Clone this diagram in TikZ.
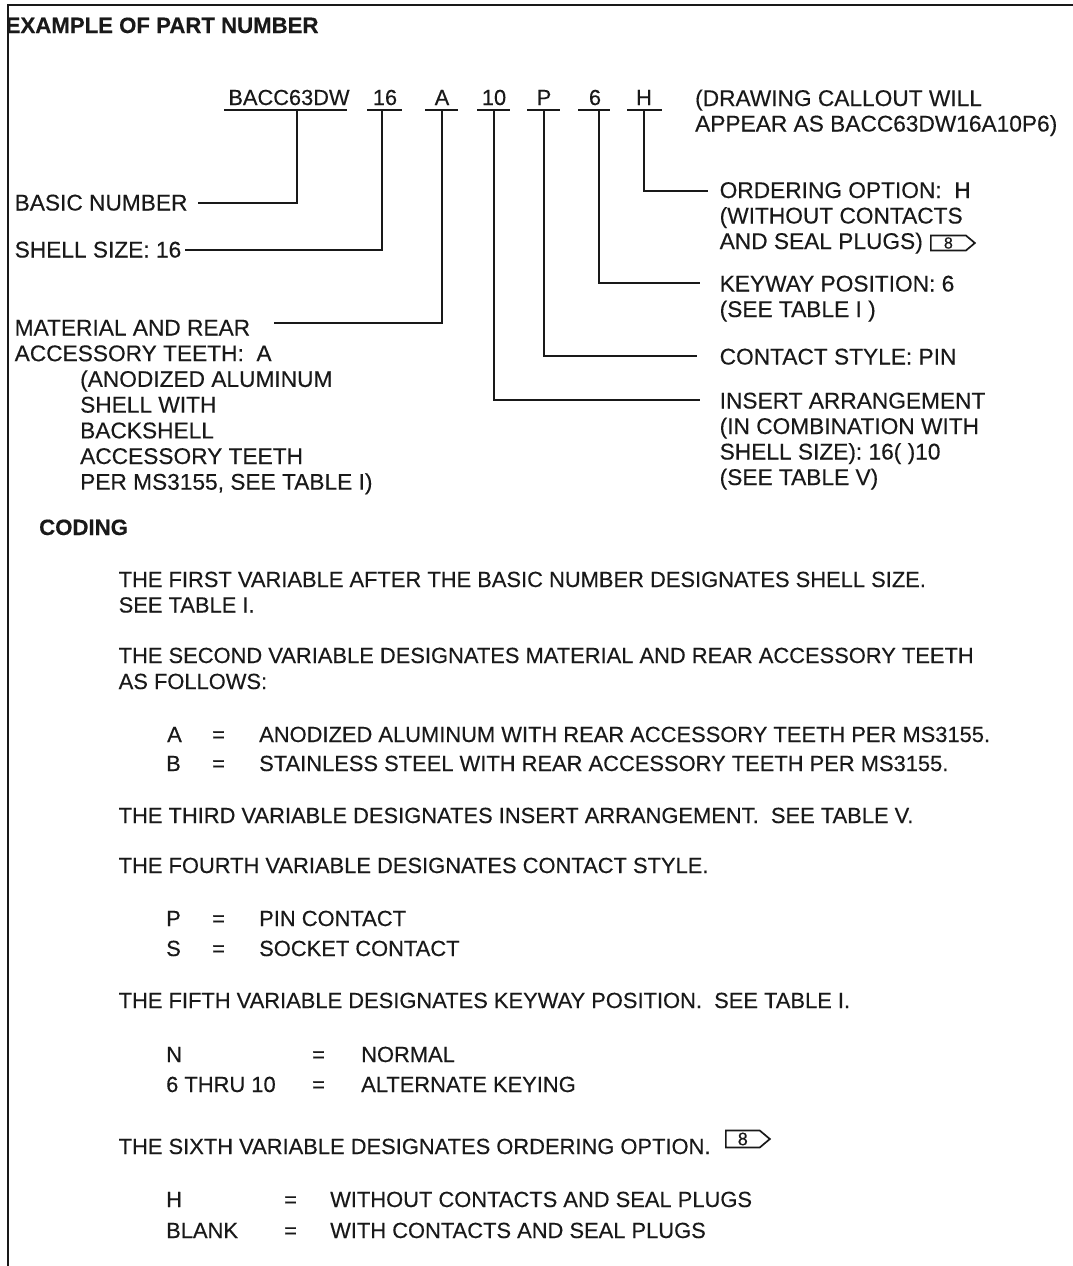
\documentclass[tikz,border=0pt]{standalone}
\usepackage{fontspec}
\setmainfont{Liberation Sans}[FakeBold=0.3]
\usetikzlibrary{shapes.symbols}
\begin{document}
\begin{tikzpicture}[x=1pt,y=-1pt,
  txt/.style={anchor=base west, inner sep=0pt, font=\fontsize{21.9}{25.7}\selectfont, text=black!90},
  big/.style={txt, font=\fontsize{22.7}{25.7}\selectfont},
  boldtxt/.style={txt, font=\fontsize{22.2}{25.7}\selectfont\bfseries},
  tok/.style={anchor=base, inner sep=0pt, font=\fontsize{21.8}{25.7}\selectfont, text=black!90},
  ln/.style={line width=1.8pt, black!90},
  flagnote/.style={draw=black!90, line width=1.7pt, shape=signal, signal to=east, signal pointer angle=80,
    minimum height=15pt, minimum width=44pt, inner sep=0pt, anchor=west, font=\fontsize{16}{16}\selectfont, text=black!90}
]
\useasboundingbox (0,0) rectangle (1073,1266);
\fill[white] (0,0) rectangle (1073,1266);
% frame
\draw[line width=2pt, black!90] (7.5,1266) -- (7.5,5) -- (1073,5);
% title
\node[boldtxt] (title) at (5.5,33) {EXAMPLE OF PART NUMBER};
% part number tokens
\node[tok] (t1) at (289,105) {BACC63DW};
\node[tok] (t2) at (385,105) {16};
\node[tok] (t3) at (442,105) {A};
\node[tok] (t4) at (494,105) {10};
\node[tok] (t5) at (544,105) {P};
\node[tok] (t6) at (595,105) {6};
\node[tok] (t7) at (644,105) {H};
\draw[ln] ([shift={(-65pt,-5pt)}]t1.base) -- ([shift={(58pt,-5pt)}]t1.base);
\draw[ln] ([shift={(-18pt,-5pt)}]t2.base) -- ([shift={(17pt,-5pt)}]t2.base);
\draw[ln] ([shift={(-17pt,-5pt)}]t3.base) -- ([shift={(16pt,-5pt)}]t3.base);
\draw[ln] ([shift={(-17pt,-5pt)}]t4.base) -- ([shift={(16pt,-5pt)}]t4.base);
\draw[ln] ([shift={(-17pt,-5pt)}]t5.base) -- ([shift={(16pt,-5pt)}]t5.base);
\draw[ln] ([shift={(-17pt,-5pt)}]t6.base) -- ([shift={(15pt,-5pt)}]t6.base);
\draw[ln] ([shift={(-17pt,-5pt)}]t7.base) -- ([shift={(18pt,-5pt)}]t7.base);
% drawing callout
\node[big] (dc1) at (695,106) {(DRAWING CALLOUT WILL};
\node[big] (dc2) at (695,131.5) {APPEAR AS BACC63DW16A10P6)};
% left labels
\node[big] (basic) at (14.5,210.5) {BASIC NUMBER};
\node[big] (shell) at (14.5,257.5) {SHELL SIZE: 16};
\node[big] (mat1) at (14.5,335.5) {MATERIAL AND REAR};
\node[big] (mat2) at (14.5,361.2) {ACCESSORY TEETH:\ \ A};
\node[big] (mat3) at (80,386.9) {(ANODIZED ALUMINUM};
\node[big] (mat4) at (80,412.6) {SHELL WITH};
\node[big] (mat5) at (80,438.3) {BACKSHELL};
\node[big] (mat6) at (80,464) {ACCESSORY TEETH};
\node[big] (mat7) at (80,489.7) {PER MS3155, SEE TABLE I)};
% right labels
\node[big] (ord1) at (719.5,198) {ORDERING OPTION:\ \ H};
\node[big] (ord2) at (719.5,223.5) {(WITHOUT CONTACTS};
\node[big] (ord3) at (719.5,249) {AND SEAL PLUGS)};
\node[flagnote] (f1) at ([xshift=7pt]ord3.base east |- 0,243) {8};
\node[big] (key1) at (719.5,291.5) {KEYWAY POSITION: 6};
\node[big] (key2) at (719.5,317) {(SEE TABLE I )};
\node[big] (con1) at (719.5,364.5) {CONTACT STYLE: PIN};
\node[big] (ins1) at (719.5,408.5) {INSERT ARRANGEMENT};
\node[big] (ins2) at (719.5,434) {(IN COMBINATION WITH};
\node[big] (ins3) at (719.5,459.5) {SHELL SIZE): 16( )10};
\node[big] (ins4) at (719.5,485) {(SEE TABLE V)};
% connector free ends
\coordinate (c1) at (198,202.7);
\coordinate (c2) at (185,250);
\coordinate (c3) at (274,323);
\coordinate (c4) at (700,400);
\coordinate (c5) at (697,356);
\coordinate (c6) at (700,283);
\coordinate (c7) at (708,190.7);
\draw[ln] ([shift={(8pt,-5pt)}]t1.base) |- (c1);
\draw[ln] ([shift={(-3pt,-5pt)}]t2.base) |- (c2);
\draw[ln] ([shift={(0pt,-5pt)}]t3.base) |- (c3);
\draw[ln] ([shift={(0pt,-5pt)}]t4.base) |- (c4);
\draw[ln] ([shift={(0pt,-5pt)}]t5.base) |- (c5);
\draw[ln] ([shift={(4pt,-5pt)}]t6.base) |- (c6);
\draw[ln] ([shift={(0pt,-5pt)}]t7.base) |- (c7);
% coding
\node[boldtxt] (cod) at (39,535) {CODING};
\node[txt] (v1a) at (118.5,587) {THE FIRST VARIABLE AFTER THE BASIC NUMBER DESIGNATES SHELL SIZE.};
\node[txt] (v1b) at (118.5,612.5) {SEE TABLE I.};
\node[txt] (v2a) at (118.5,663) {THE SECOND VARIABLE DESIGNATES MATERIAL AND REAR ACCESSORY TEETH};
\node[txt] (v2b) at (118.5,689) {AS FOLLOWS:};
\node[txt] (la1) at (167,742) {A};
\node[txt] (le1) at (212,742) {=};
\node[txt] (lv1) at (259,742) {ANODIZED ALUMINUM WITH REAR ACCESSORY TEETH PER MS3155.};
\node[txt] (la2) at (166,771) {B};
\node[txt] (le2) at (212,771) {=};
\node[txt] (lv2) at (259,771) {STAINLESS STEEL WITH REAR ACCESSORY TEETH PER MS3155.};
\node[txt] (v3) at (118.5,823) {THE THIRD VARIABLE DESIGNATES INSERT ARRANGEMENT.\ \ SEE TABLE V.};
\node[txt] (v4) at (118.5,873) {THE FOURTH VARIABLE DESIGNATES CONTACT STYLE.};
\node[txt] (lp1) at (166,926) {P};
\node[txt] (lp2) at (212,926) {=};
\node[txt] (lp3) at (259,926) {PIN CONTACT};
\node[txt] (ls1) at (166,956) {S};
\node[txt] (ls2) at (212,956) {=};
\node[txt] (ls3) at (259,956) {SOCKET CONTACT};
\node[txt] (v5) at (118.5,1008) {THE FIFTH VARIABLE DESIGNATES KEYWAY POSITION.\ \ SEE TABLE I.};
\node[txt] (ln1) at (166,1062) {N};
\node[txt] (ln2) at (312,1062) {=};
\node[txt] (ln3) at (361,1062) {NORMAL};
\node[txt] (lk1) at (166,1092) {6 THRU 10};
\node[txt] (lk2) at (312,1092) {=};
\node[txt] (lk3) at (361,1092) {ALTERNATE KEYING};
\node[txt] (v6) at (118.5,1154) {THE SIXTH VARIABLE DESIGNATES ORDERING OPTION.};
\node[flagnote, minimum height=17pt, font=\fontsize{18}{18}\selectfont] (f2) at (725,1139) {8};
\node[txt] (lh1) at (166,1207) {H};
\node[txt] (lh2) at (284,1207) {=};
\node[txt] (lh3) at (330,1207) {WITHOUT CONTACTS AND SEAL PLUGS};
\node[txt] (lb1) at (166,1238) {BLANK};
\node[txt] (lb2) at (284,1238) {=};
\node[txt] (lb3) at (330,1238) {WITH CONTACTS AND SEAL PLUGS};
\end{tikzpicture}
\end{document}
